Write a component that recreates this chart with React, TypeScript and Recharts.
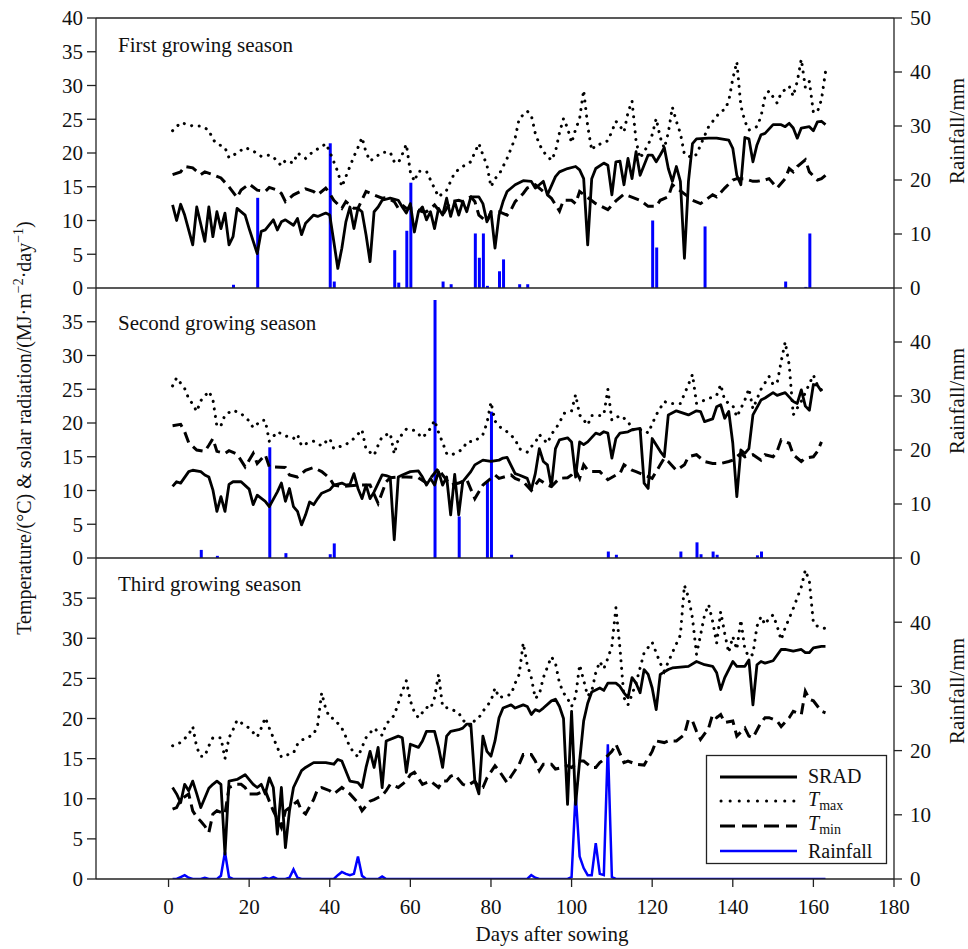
import { ComposedChart, Line, Bar, XAxis, YAxis } from "recharts";

const FONT = '"Liberation Serif", "Times New Roman", serif';

type Pair = [number, number];
type Row = { day: number; srad?: number; tmax?: number; tmin?: number; rain?: number | null };

const LAST_DAY = 163;
const dayTicks = [0, 20, 40, 60, 80, 100, 120, 140, 160, 180];
const tempTicksTop = [0, 5, 10, 15, 20, 25, 30, 35, 40];
const tempTicks = [0, 5, 10, 15, 20, 25, 30, 35];
const rainTicksTop = [0, 10, 20, 30, 40, 50];
const rainTicks = [0, 10, 20, 30, 40];
const seasonNames = ["First growing season", "Second growing season", "Third growing season"];

// ---- first season: [day, value]
const srad1: Pair[] = [
  [1, 12.3], [2, 10], [3, 12.4], [4, 10.8], [6, 6.4], [7, 12], [9, 6.9], [10, 12], [11, 7.6], [12, 11.3],
  [13, 8.8], [14, 11.1], [15, 6.4], [16, 7.6], [17, 11.8], [19, 10.8], [20, 8.8], [22, 5.1], [23, 8.4], [24, 8.6],
  [26, 10.1], [27, 8.6], [28, 9.8], [29, 10.1], [31, 9.3], [32, 10.3], [33, 7.9], [34, 9.6], [36, 10.8], [37, 10.6],
  [39, 11.1], [40, 10.8], [41, 6.9], [42, 2.9], [43, 5.9], [44, 9.8], [45, 12], [46, 8.8], [47, 11.8], [48, 11.3],
  [49, 7.9], [50, 3.9], [51, 11.3], [52, 12], [53, 13], [55, 13.3], [57, 13], [58, 12], [59, 11.1], [60, 12.5],
  [61, 8.3], [62, 11.3], [63, 12], [64, 10.1], [65, 11.3], [66, 8.8], [67, 11.8], [68, 10.8], [69, 13.3], [70, 10.6],
  [71, 12.8], [72, 10.8], [73, 12.8], [74, 11.3], [75, 13.5], [77, 13.5], [78, 12.5], [79, 9.8], [80, 11.3], [81, 5.9],
  [82, 10.8], [83, 12.8], [84, 14.3], [86, 15.3], [88, 15.9], [90, 15.8], [91, 14.8], [92, 15.3], [93, 15.8], [94, 13.8],
  [96, 16.5], [97, 17.2], [99, 17.7], [101, 18], [102, 17.5], [103, 16.2], [104, 6.4], [105, 16.2], [106, 17.7], [108, 18.5],
  [109, 18.2], [110, 13.8], [111, 18.7], [112, 18.8], [113, 15.3], [114, 19.2], [115, 16.2], [116, 20.2], [117, 16.7], [119, 19.7],
  [120, 19.7], [121, 18.7], [122, 19.7], [123, 20.8], [124, 17.7], [125, 15.8], [126, 18], [127, 15.8], [128, 4.4], [129, 15.8],
  [130, 21.4], [131, 22.1], [134, 22.2], [136, 22.2], [139, 21.9], [140, 20.7], [141, 16.7], [142, 15.3], [143, 22.3], [144, 22.1],
  [145, 18.7], [146, 21.2], [147, 22.7], [148, 22.9], [150, 24.2], [152, 24.2], [153, 23.9], [154, 24.4], [155, 23.7], [156, 22.2],
  [157, 23.7], [159, 23.9], [160, 23.3], [161, 24.6], [162, 24.7], [163, 24.2],
];
const tmax1: Pair[] = [
  [1, 23.3], [3, 24.5], [6, 24], [8, 24], [10, 23.4], [11, 22], [12, 21.4], [14, 20.8], [15, 19.3], [17, 20],
  [19, 20.8], [21, 20.3], [23, 19.5], [25, 19.7], [26, 19.4], [28, 18.1], [29, 18.9], [31, 18.5], [32, 20], [34, 19.2],
  [36, 20.3], [38, 20.9], [39, 21.4], [40, 20.2], [41, 18.7], [42, 17.2], [43, 15], [44, 16.5], [45, 18], [46, 19.5],
  [47, 20.8], [48, 22.3], [49, 20.1], [50, 18.8], [53, 20.1], [55, 20.1], [56, 18.7], [57, 18.5], [58, 19.8], [59, 21.3],
  [60, 17.2], [61, 15.8], [62, 17.3], [64, 17.3], [65, 16], [67, 13.5], [69, 14.5], [70, 15.8], [71, 17.1], [73, 18],
  [75, 18.7], [76, 20.1], [77, 21.4], [78, 19.7], [79, 18.2], [80, 15], [81, 16.2], [82, 16.8], [84, 19.2], [85, 20.7],
  [86, 22.2], [87, 25.1], [89, 26.2], [90, 25.6], [91, 22.9], [92, 21.3], [93, 20.2], [95, 18.9], [96, 20.2], [97, 23],
  [98, 25.1], [99, 23.7], [100, 21.5], [101, 23.5], [102, 25.1], [103, 29.3], [104, 24], [105, 20.4], [106, 21.2], [107, 21.3],
  [109, 21.8], [110, 23.2], [111, 24.7], [112, 24], [113, 23.1], [114, 26], [115, 27.7], [116, 21.8], [117, 19.2], [119, 21.2],
  [120, 22.7], [121, 25.1], [122, 22.3], [123, 20.7], [124, 23], [125, 26.8], [126, 24.7], [127, 22.9], [128, 19.8], [130, 19.3],
  [131, 19.8], [134, 23.9], [137, 26.2], [138, 26.4], [139, 27.7], [140, 31], [141, 33.5], [142, 27], [143, 24.7], [144, 23.4],
  [146, 23.9], [147, 25.4], [148, 28.4], [149, 29.2], [151, 27.4], [152, 28.9], [154, 29.9], [155, 28.4], [156, 30.6], [157, 33.9],
  [158, 29.7], [159, 30.6], [160, 26], [161, 26.1], [162, 27.9], [163, 32],
];
const tmin1: Pair[] = [
  [1, 16.8], [3, 17.2], [4, 18], [6, 17.8], [8, 16.8], [9, 17.2], [11, 16.8], [13, 16.3], [15, 15], [17, 13.4],
  [18, 14.5], [20, 15.4], [22, 14.5], [24, 14.3], [25, 14.9], [27, 14.5], [28, 14], [29, 12.8], [31, 13.8], [34, 14.7],
  [36, 14.3], [37, 13.8], [39, 14.8], [40, 14], [41, 13], [43, 11.8], [44, 12.8], [46, 11.8], [47, 11.8], [49, 14.3],
  [51, 13.8], [53, 13.3], [54, 13.4], [56, 12.8], [57, 11.8], [58, 12.3], [59, 11.8], [61, 11.8], [63, 11.3], [64, 11.3],
  [66, 12.3], [68, 10.8], [70, 12.8], [72, 13], [73, 12.8], [75, 13.5], [76, 12.8], [77, 10.8], [79, 9.8], [80, 11.3],
  [82, 11.3], [84, 10.8], [85, 11.6], [86, 12.8], [88, 14], [89, 14.8], [91, 15.3], [95, 13.3], [97, 11.4], [98, 13],
  [100, 13], [101, 12.5], [102, 14.3], [106, 12.5], [109, 11.6], [111, 12.9], [113, 13.9], [117, 13], [119, 12.1], [121, 12.1],
  [122, 13], [124, 13.5], [125, 15.3], [129, 13.5], [130, 13], [132, 12.5], [135, 13.8], [136, 13.5], [138, 14.8], [140, 16],
  [141, 16.2], [143, 16.2], [145, 15.8], [146, 15.8], [148, 16], [149, 16.2], [151, 14.8], [153, 16.2], [154, 17.7], [155, 17.2],
  [156, 18], [158, 19], [159, 17.2], [161, 16], [162, 16.2], [163, 16.7],
];
const rain1: Pair[] = [
  [16, 0.6], [22, 16.7], [40, 26.8], [41, 1.2], [56, 7], [57, 1], [59, 10.6], [60, 19.5], [68, 1.2], [70, 0.7],
  [76, 10.1], [77, 5.6], [78, 10.1], [79, 0.4], [82, 3.1], [83, 5.3], [87, 0.7], [89, 0.7], [120, 12.5], [121, 7.5],
  [133, 11.4], [153, 1.2], [158, 0.2], [159, 10.1],
];

// ---- second season
const srad2: Pair[] = [
  [1, 10.6], [2, 11.3], [3, 11.1], [5, 12.8], [6, 13], [8, 12.8], [9, 12.3], [10, 12], [11, 10.1], [12, 6.9],
  [13, 9.1], [14, 6.9], [15, 10.9], [16, 11.3], [18, 11.3], [20, 10.2], [21, 7.9], [22, 9.3], [24, 8.4], [25, 7.6],
  [27, 9.8], [28, 11.1], [29, 8.4], [30, 10.3], [31, 7.6], [32, 6.9], [33, 4.9], [34, 6.4], [35, 8.3], [36, 7.9],
  [37, 8.8], [38, 9.6], [40, 10.1], [41, 10.8], [43, 11.1], [44, 10.8], [45, 10.9], [46, 12.5], [47, 10.3], [48, 8.8],
  [49, 10.8], [50, 8.8], [51, 9.8], [53, 12.3], [54, 12.2], [55, 12], [56, 2.7], [57, 12], [58, 12.3], [60, 12.8],
  [62, 12.9], [63, 12], [64, 10.8], [65, 11.8], [66, 10.8], [67, 12.8], [68, 10.8], [69, 12], [70, 6.4], [71, 12.4],
  [72, 6.4], [73, 11.3], [75, 12.8], [76, 13.8], [78, 14.5], [80, 14.3], [82, 14.5], [83, 14.8], [84, 14.9], [86, 12.5],
  [87, 12.3], [89, 11.8], [90, 10.1], [91, 12.5], [92, 16.2], [93, 14.3], [94, 13.8], [95, 10.6], [96, 16.2], [97, 17.5],
  [99, 17.8], [100, 17.2], [101, 12], [102, 17.2], [103, 16.8], [104, 17.2], [106, 18.5], [107, 18.3], [108, 18.7], [109, 18.5],
  [110, 14.8], [111, 17.7], [112, 18.5], [114, 18.7], [115, 19], [116, 19.1], [117, 19.2], [118, 11.1], [119, 10.3], [120, 17.7],
  [122, 15.8], [123, 15], [124, 21.2], [126, 21.8], [129, 21.2], [131, 21.8], [132, 21.7], [133, 20.2], [135, 20.6], [136, 22.4],
  [137, 22.7], [138, 20.7], [139, 21.7], [140, 17], [141, 9.1], [142, 16], [143, 15.5], [144, 16.2], [145, 21.2], [147, 23.4],
  [148, 23.7], [150, 24.5], [151, 24.1], [153, 24.5], [155, 23.2], [156, 22.9], [157, 24.9], [158, 22.5], [159, 21.9], [160, 25.7],
  [161, 25.6], [162, 24.7],
];
const tmax2: Pair[] = [
  [1, 25.5], [2, 26.7], [4, 25.1], [5, 23.6], [6, 22.8], [7, 21.7], [8, 23.3], [10, 24.7], [11, 23.5], [12, 19.5],
  [13, 19.6], [14, 21.2], [16, 21.9], [18, 21.4], [20, 20.3], [21, 19.3], [23, 20.4], [24, 20.4], [25, 17.3], [27, 18.7],
  [29, 18.1], [31, 17.7], [32, 18.3], [33, 16.6], [34, 16.9], [36, 17.3], [38, 16.6], [39, 17.2], [40, 17.7], [41, 16.2],
  [44, 16.8], [46, 17.7], [48, 19], [49, 16.1], [51, 15.2], [52, 16.7], [53, 18], [55, 18.5], [56, 15.4], [57, 17.6],
  [59, 19.1], [61, 18.9], [63, 17.8], [65, 19.2], [66, 20.4], [67, 18.6], [68, 17.1], [69, 15.5], [70, 15.2], [73, 16.1],
  [74, 17.2], [76, 17.3], [78, 18.3], [79, 20], [80, 23.1], [81, 20.3], [82, 19.5], [84, 18.7], [86, 17.6], [87, 16.2],
  [89, 15.7], [90, 16.5], [91, 17.1], [92, 18.3], [93, 17.6], [94, 17], [95, 18.3], [97, 20], [98, 21.4], [100, 21.8],
  [101, 24.2], [102, 21.2], [104, 19.7], [105, 21.1], [107, 21.1], [108, 21.2], [109, 25], [110, 20.4], [112, 21.1], [114, 20.3],
  [115, 19], [118, 19], [119, 18.5], [121, 21.2], [123, 23.2], [124, 22.9], [127, 22.9], [129, 25.7], [130, 27.2], [131, 22.9],
  [136, 24.1], [137, 25.7], [138, 23.3], [140, 22.6], [141, 20.9], [143, 23.4], [144, 25.1], [145, 22.1], [147, 25], [149, 26.9],
  [150, 25.7], [151, 25.9], [152, 29.1], [153, 32], [154, 28.6], [155, 21.2], [157, 23.2], [160, 27.1], [161, 25.6], [162, 24.9],
];
const tmin2: Pair[] = [
  [1, 19.6], [3, 19.8], [4, 18.7], [5, 17.1], [7, 16], [9, 15.8], [10, 16.7], [11, 17.7], [12, 15.8], [14, 15.5],
  [15, 15.9], [17, 15.4], [19, 13.5], [21, 15.5], [22, 14], [24, 15.3], [25, 13.5], [29, 13.4], [30, 12.3], [32, 12],
  [34, 13], [36, 13.4], [38, 12.8], [40, 11.8], [41, 10.8], [43, 10.6], [47, 10.8], [50, 10.8], [52, 8.1], [54, 11.3],
  [55, 11.9], [57, 12], [59, 12], [62, 11.9], [64, 11.1], [67, 13.3], [68, 12.3], [70, 10.8], [72, 11.1], [74, 11.6],
  [76, 8.8], [78, 10.8], [81, 12.3], [82, 11.8], [85, 12.3], [86, 11.8], [88, 11.3], [90, 10], [91, 10.8], [92, 11.6],
  [94, 10.8], [95, 10.6], [97, 11.8], [99, 11.9], [100, 12.3], [101, 13], [102, 11.8], [103, 13.8], [104, 13], [105, 12.8],
  [107, 12.8], [109, 11.6], [111, 12.3], [112, 12.5], [113, 13.8], [115, 13], [116, 12.8], [118, 12.3], [120, 11.8], [122, 13.8],
  [123, 14.8], [124, 14.3], [126, 13], [128, 13.8], [129, 15], [131, 15.3], [133, 14.3], [135, 14], [137, 14], [139, 14.3],
  [140, 14.5], [142, 15.5], [143, 15], [145, 15.3], [147, 14.5], [148, 15.3], [150, 15], [151, 15.8], [152, 17.5], [154, 17],
  [155, 15.3], [157, 14.3], [158, 14.8], [160, 15], [161, 15.8], [162, 17.2],
];
const rain2: Pair[] = [
  [8, 1.5], [12, 0.4], [25, 20.5], [29, 0.9], [40, 0.7], [41, 2.7], [66, 47.8], [72, 7.7], [79, 14.1], [80, 27.1],
  [85, 0.6], [109, 1.2], [111, 0.6], [127, 1.2], [131, 2.9], [132, 0.7], [135, 1.2], [136, 0.6], [146, 0.5], [147, 1.2],
];

// ---- third season
const srad3: Pair[] = [
  [1, 11.4], [2, 10.6], [3, 9.5], [4, 11.8], [5, 11], [6, 12.2], [7, 10.6], [8, 8.9], [10, 11.3], [11, 11.8],
  [12, 12.2], [13, 11.8], [14, 3.1], [15, 12.2], [17, 12.4], [19, 13], [21, 11.8], [22, 11.4], [23, 11.8], [24, 10.6],
  [25, 12.6], [26, 11.4], [27, 5.6], [28, 11.4], [29, 3.9], [30, 8.5], [31, 11.4], [33, 13.5], [34, 13.9], [36, 14.5],
  [38, 14.5], [39, 14.5], [41, 14.3], [42, 14.9], [43, 14.7], [45, 12.2], [47, 12], [48, 11.4], [49, 13.9], [50, 15.9],
  [51, 13.9], [52, 16.4], [53, 11.4], [54, 17.2], [57, 17.8], [58, 17.6], [59, 13.3], [60, 16.8], [62, 16.4], [63, 17.2],
  [64, 18.4], [66, 18.4], [67, 16.4], [68, 13.9], [69, 17.8], [70, 18.4], [72, 18.6], [73, 18.8], [74, 19.3], [75, 19.3],
  [76, 12.2], [77, 10.6], [78, 17.8], [79, 15.9], [80, 15.3], [81, 17.2], [82, 20.1], [83, 21.3], [85, 21.7], [86, 21.3],
  [88, 21.7], [89, 21.5], [90, 20.5], [91, 21.1], [92, 20.9], [93, 21.3], [95, 22.2], [96, 22.4], [97, 21.5], [98, 20],
  [99, 9.3], [100, 20.9], [101, 9.3], [102, 14.7], [103, 19.7], [104, 21.9], [105, 23.3], [107, 23.8], [108, 23.5], [109, 24.4],
  [111, 24.4], [112, 24], [113, 23.2], [114, 22.6], [115, 25.1], [116, 24.4], [117, 23.2], [118, 26.1], [119, 25.5], [120, 23.8],
  [121, 21.1], [122, 25.5], [124, 26.1], [125, 26.3], [127, 26.4], [129, 26.5], [131, 27.1], [133, 26.7], [135, 26.5], [136, 25.7],
  [137, 23.6], [138, 25.1], [140, 27.1], [141, 26.5], [143, 26.5], [144, 27.3], [145, 21.7], [146, 26.7], [147, 27.1], [148, 26.9],
  [150, 27.2], [152, 28.6], [153, 28.6], [155, 28.4], [157, 28.6], [158, 28.2], [159, 28.2], [160, 28.8], [162, 29], [163, 29],
];
const tmax3: Pair[] = [
  [1, 16.6], [3, 17], [5, 18], [6, 19], [7, 16.4], [8, 15.3], [9, 15.3], [10, 16.6], [11, 17.6], [13, 17.6],
  [14, 15], [15, 17.6], [16, 18.6], [17, 19.8], [20, 18.8], [22, 17.7], [23, 18.8], [24, 20.1], [25, 18.8], [26, 17.6],
  [27, 16.4], [28, 15.2], [29, 15.4], [31, 15.7], [32, 16.8], [33, 17.3], [36, 18], [37, 19.2], [38, 23.2], [39, 21.2],
  [40, 20.1], [41, 20], [43, 18.8], [44, 17.7], [45, 16.4], [47, 15.2], [49, 17.6], [51, 18.8], [53, 17.9], [54, 19.3],
  [56, 20.4], [57, 21.9], [58, 23.4], [59, 24.7], [60, 22.2], [61, 20.8], [62, 20.1], [64, 21.4], [65, 21.2], [66, 22.6],
  [67, 25.5], [68, 21.5], [70, 21.2], [72, 20.7], [73, 19.8], [75, 19], [76, 19.8], [77, 20.1], [78, 20.9], [80, 22.2],
  [81, 23.8], [82, 22.6], [85, 23], [86, 24.4], [87, 25.5], [88, 29.4], [89, 26.7], [90, 25.1], [91, 22.5], [92, 23],
  [93, 25.1], [95, 27.7], [96, 26.9], [97, 24.4], [98, 23.2], [99, 22.5], [100, 21.5], [101, 22.7], [102, 26.7], [104, 22.8],
  [105, 23.4], [106, 25.7], [107, 27.1], [108, 26.2], [109, 27.5], [110, 29], [111, 33.8], [112, 28.8], [113, 22.6], [114, 21.7],
  [115, 23], [116, 24.4], [118, 28.2], [120, 29.5], [121, 28.2], [122, 26.9], [123, 25.9], [125, 28.2], [127, 30.4], [128, 36.6],
  [129, 35.1], [130, 32.5], [131, 28], [132, 30.4], [133, 32.9], [134, 34.2], [135, 32.1], [136, 29.4], [137, 33.3], [138, 30.6],
  [139, 28.2], [140, 30.2], [141, 28.6], [142, 32.3], [143, 28.6], [144, 27.7], [145, 28], [146, 31.5], [147, 32.7], [148, 31.7],
  [149, 32.5], [150, 32.9], [151, 31.5], [152, 29.8], [153, 31.3], [155, 33.7], [157, 36.4], [158, 38.5], [159, 37.1], [160, 31.9],
  [161, 31.5], [163, 31.2],
];
const tmin3: Pair[] = [
  [1, 8.7], [2, 8.9], [3, 9.9], [5, 10.6], [6, 8.5], [7, 7.7], [8, 7.2], [9, 6.6], [10, 5.8], [11, 8.1],
  [12, 8.5], [14, 8.1], [15, 11.4], [17, 11.8], [18, 11.8], [19, 11.4], [20, 10.6], [22, 10.6], [24, 11], [25, 9.7],
  [26, 8.5], [28, 6.4], [29, 8.5], [32, 9.7], [33, 8.5], [34, 8.1], [36, 9.9], [37, 11.2], [38, 11.4], [40, 11],
  [41, 10.6], [43, 11.4], [45, 10.6], [47, 9.5], [48, 8.5], [50, 9.7], [51, 9.9], [53, 10.4], [54, 11], [55, 11.8],
  [57, 11.4], [59, 12.2], [60, 13], [61, 13.3], [63, 11.8], [65, 12.2], [67, 11.4], [68, 12.2], [69, 12.2], [70, 12.8],
  [71, 13], [73, 11.8], [74, 11.6], [76, 12.2], [77, 11.4], [78, 11.4], [79, 12.6], [81, 14.1], [82, 13.5], [84, 12],
  [85, 12.8], [87, 14.3], [88, 15.5], [90, 15.5], [91, 14.7], [92, 13.5], [93, 14.3], [95, 14.3], [96, 13.7], [98, 13.9],
  [99, 14.1], [100, 13.9], [102, 14.7], [103, 14.7], [105, 13.9], [106, 13.9], [107, 14.5], [108, 14.9], [110, 15.9], [111, 16.8],
  [113, 14.5], [114, 14.7], [116, 14.3], [118, 14.2], [120, 15.9], [121, 17.2], [123, 17], [124, 17.2], [126, 17.2], [128, 18],
  [129, 19.9], [130, 19.7], [131, 18.4], [132, 17.4], [134, 18.8], [135, 20.5], [136, 20.1], [137, 20.5], [138, 19.5], [140, 19.7],
  [141, 17.8], [143, 18.8], [144, 17.8], [145, 17.6], [147, 19.5], [148, 20.1], [149, 20.1], [151, 19.7], [152, 19], [154, 20.1],
  [155, 20.9], [157, 20.5], [158, 23.4], [159, 22.4], [160, 22.2], [162, 20.9], [163, 20.7],
];
// rain days of the third season; every other day is 0 mm
const rain3: Pair[] = [
  [3, 0.3], [4, 0.6], [5, 0.2], [9, 0.2], [13, 0.5], [14, 4.2], [15, 0.3], [24, 0.2], [26, 0.3], [30, 0.2],
  [31, 1.5], [32, 0.2], [42, 0.6], [43, 1.1], [44, 0.8], [45, 0.6], [46, 0.8], [47, 3.5], [48, 0.5], [53, 0.4],
  [90, 0.6], [91, 0.2], [100, 0.3], [101, 13.5], [102, 3.5], [103, 1.7], [104, 0.6], [105, 0.6], [106, 5.6], [107, 0.8],
  [108, 0.6], [109, 21], [110, 0.3],
];

function buildRows(srad: Pair[], tmax: Pair[], tmin: Pair[], rain: Pair[], zeroRain: boolean): Row[] {
  const rows: Row[] = [];
  for (let d = 1; d <= LAST_DAY; d++) rows.push({ day: d, rain: zeroRain ? 0 : null });
  srad.forEach(([d, v]) => (rows[d - 1].srad = v));
  tmax.forEach(([d, v]) => (rows[d - 1].tmax = v));
  tmin.forEach(([d, v]) => (rows[d - 1].tmin = v));
  rain.forEach(([d, v]) => (rows[d - 1].rain = v));
  return rows;
}

const rows1 = buildRows(srad1, tmax1, tmin1, rain1, false);
const rows2 = buildRows(srad2, tmax2, tmin2, rain2, false);
const rows3 = buildRows(srad3, tmax3, tmin3, rain3, true);

const AXIS = "#222";
const tickStyle = { fill: "#111", fontSize: 21, fontFamily: FONT };

interface PanelProps {
  rows: Row[];
  top: number;
  height: number;
  bottomMargin: number;
  leftTicks: number[];
  rightTicks: number[];
  first?: boolean;
  last?: boolean;
}

function Panel({ rows, top, height, bottomMargin, leftTicks, rightTicks, first, last }: PanelProps) {
  return (
    <div style={{ position: "absolute", left: 0, top, width: 968, height }}>
      <ComposedChart width={968} height={height} data={rows} margin={{ top: first ? 17 : 18, right: 24, bottom: bottomMargin, left: 36 }}>
        {first && (
          <XAxis xAxisId="top" orientation="top" dataKey="day" type="number" domain={[-18, 180]} allowDataOverflow
            height={1} tick={false} tickLine={false} stroke={AXIS} strokeWidth={1.3} />
        )}
        <XAxis
          dataKey="day"
          type="number"
          domain={[-18, 180]}
          allowDataOverflow
          ticks={dayTicks}
          height={last ? 40 : 1}
          tick={last ? tickStyle : false}
          tickLine={last}
          tickSize={8}
          tickMargin={12}
          stroke={AXIS}
          strokeWidth={1.3}
        />
        <YAxis yAxisId="left" width={60} domain={[0, 40]} ticks={leftTicks} allowDataOverflow interval={0}
          tick={tickStyle} tickSize={9} tickMargin={4} stroke={AXIS} strokeWidth={1.3} />
        <YAxis yAxisId="right" orientation="right" width={50} domain={[0, 50]} ticks={rightTicks} allowDataOverflow interval={0}
          tick={tickStyle} tickSize={8} tickMargin={8} stroke={AXIS} strokeWidth={1.3} />
        {last ? (
          <Line yAxisId="right" dataKey="rain" type="linear" stroke="#0000ff" strokeWidth={2.5} dot={false} isAnimationActive={false} />
        ) : (
          <Bar yAxisId="right" dataKey="rain" fill="#0000ff" barSize={3} isAnimationActive={false} />
        )}
        <Line yAxisId="left" dataKey="tmax" type="linear" stroke="#000" strokeWidth={3} strokeDasharray="0.1 7.5"
          strokeLinecap="round" connectNulls dot={false} isAnimationActive={false} />
        <Line yAxisId="left" dataKey="tmin" type="linear" stroke="#000" strokeWidth={3} strokeDasharray="11 6"
          connectNulls dot={false} isAnimationActive={false} />
        <Line yAxisId="left" dataKey="srad" type="linear" stroke="#000" strokeWidth={2.8} strokeLinejoin="round"
          connectNulls dot={false} isAnimationActive={false} />
      </ComposedChart>
    </div>
  );
}

function Overlay() {
  const text = { fontFamily: FONT, fontSize: 21, fill: "#111" };
  const legendText = { ...text, fontSize: 20 };
  return (
    <svg width={968} height={949} style={{ position: "absolute", left: 0, top: 0, pointerEvents: "none" }}>
      <text x={118} y={52} {...text}>{seasonNames[0]}</text>
      <text x={118} y={330} {...text}>{seasonNames[1]}</text>
      <text x={118} y={591} {...text}>{seasonNames[2]}</text>

      <text transform="translate(31,428) rotate(-90)" textAnchor="middle" {...text} fontSize={20}>
        Temperature/(°C) &amp; solar radiation/(MJ·m
        <tspan dy={-8} fontSize={14}>−2</tspan>
        <tspan dy={8}>·day</tspan>
        <tspan dy={-8} fontSize={14}>−1</tspan>
        <tspan dy={8}>)</tspan>
      </text>
      {[131, 401, 691].map((cy) => (
        <text key={cy} transform={`translate(964,${cy}) rotate(-90)`} textAnchor="middle" {...text}>Rainfall/mm</text>
      ))}
      <text x={552} y={941} textAnchor="middle" {...text}>Days after sowing</text>

      <g>
        <rect x={706.5} y={755.5} width={180} height={108} fill="#fff" stroke={AXIS} strokeWidth={1.3} />
        <line x1={720} x2={797} y1={777} y2={777} stroke="#000" strokeWidth={3} />
        <line x1={721} x2={797} y1={801} y2={801} stroke="#000" strokeWidth={3} strokeDasharray="0.1 9" strokeLinecap="round" />
        <line x1={720} x2={797} y1={826} y2={826} stroke="#000" strokeWidth={3} strokeDasharray="15 7" />
        <line x1={720} x2={797} y1={851} y2={851} stroke="#0000ff" strokeWidth={2.5} />
        <text x={808} y={783} {...legendText}>SRAD</text>
        <text x={808} y={806} {...legendText}>
          <tspan fontStyle="italic">T</tspan>
          <tspan dy={4} fontSize={14}>max</tspan>
        </text>
        <text x={808} y={830} {...legendText}>
          <tspan fontStyle="italic">T</tspan>
          <tspan dy={4} fontSize={14}>min</tspan>
        </text>
        <text x={808} y={858} {...legendText}>Rainfall</text>
      </g>
    </svg>
  );
}

export default function App() {
  return (
    <div style={{ position: "absolute", left: 0, top: 0, width: 968, height: 949, background: "#fff", overflow: "hidden" }}>
      <Panel rows={rows1} top={0} height={300} bottomMargin={11} leftTicks={tempTicksTop} rightTicks={rainTicksTop} first />
      <Panel rows={rows2} top={270} height={300} bottomMargin={11} leftTicks={tempTicks} rightTicks={rainTicks} />
      <Panel rows={rows3} top={540} height={409} bottomMargin={30} leftTicks={tempTicks} rightTicks={rainTicks} last />
      <Overlay />
    </div>
  );
}
